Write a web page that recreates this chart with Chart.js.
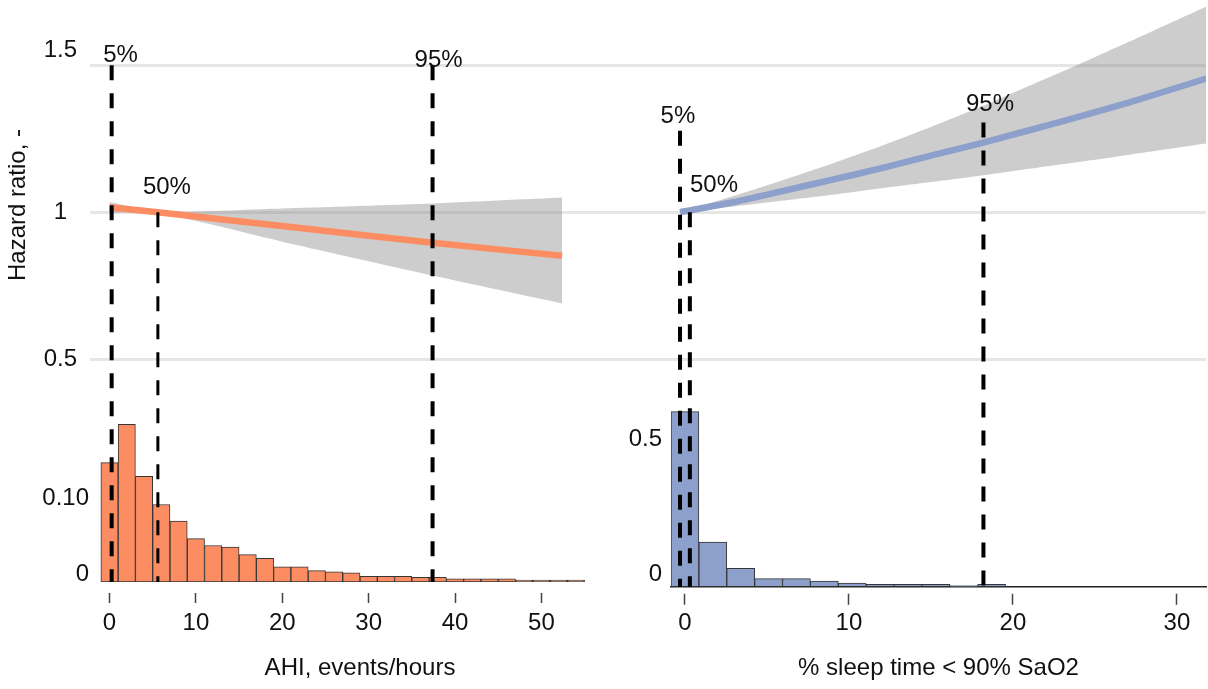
<!DOCTYPE html>
<html>
<head>
<meta charset="utf-8">
<script src="https://cdn.jsdelivr.net/npm/chart.js@4.4.1/dist/chart.umd.min.js"></script>
<style>
  html, body { margin: 0; padding: 0; background: #ffffff; }
  #wrap { position: relative; width: 1208px; height: 689px; overflow: hidden; background: #ffffff; }
  canvas { position: absolute; top: 0; }
  #cL { left: 0; }
  #cR { left: 600px; }
</style>
</head>
<body>
<div id="wrap">
  <canvas id="cL" width="630" height="689"></canvas>
  <canvas id="cR" width="608" height="689"></canvas>
</div>
<script>
// ---------------- DATA ----------------
// Left panel: AHI, events/hours
const ahiBinCenters = [0, 2, 4, 6, 8, 10, 12, 14, 16, 18, 20, 22, 24, 26, 28, 30, 32, 34, 36, 38, 40, 42, 44, 46, 48, 50, 52, 54];
const ahiProportion = [0.157, 0.2075, 0.139, 0.102, 0.080, 0.057, 0.048, 0.046, 0.036, 0.031, 0.020, 0.020, 0.015, 0.0135,
                       0.012, 0.0075, 0.0075, 0.0075, 0.006, 0.006, 0.0043, 0.0043, 0.0043, 0.0043, 0.0026, 0.0026, 0.0026, 0.0026];
const ahiCurveX   = [0, 5.6, 20, 37.4, 52.4];
const ahiHR       = [1.017, 1.0, 0.953, 0.896, 0.852];
const ahiHRLower  = [0.998, 0.998, 0.900, 0.785, 0.690];
const ahiHRUpper  = [1.035, 1.002, 1.013, 1.030, 1.050];
const ahiPercentiles   = [0.25, 5.6, 37.4];     // 5%, 50%, 95%
const ahiPercentileTop = [1.5, 1.0, 1.5];       // hazard ratio where the marker line starts
const ahiLabelX  = [1.27, 6.65, 38.1];
const ahiLabelHR = [1.532, 1.083, 1.518];
const ahiTicks = [0, 10, 20, 30, 40, 50];
const ahiHistTicks = [0, 0.10];
const ahiHistTickLabels = ['0', '0.10'];

// Right panel: % sleep time < 90% SaO2
const satBinCenters = [0, 1.7, 3.4, 5.1, 6.8, 8.5, 10.2, 11.9, 13.6, 15.3, 17.0, 18.7, 20.4, 22.1, 23.8, 25.5, 27.2, 28.9, 30.6];
const satProportion = [0.645, 0.164, 0.068, 0.0295, 0.0295, 0.021, 0.0136, 0.009, 0.009, 0.009, 0.004, 0.009, 0, 0, 0, 0, 0, 0, 0];
const satCurveX  = [-0.3, 3, 6, 9, 12, 15, 18.2, 21, 24.1, 27, 31.8];
const satHR      = [1.0, 1.035, 1.073, 1.111, 1.150, 1.193, 1.237, 1.279, 1.326, 1.372, 1.455];
const satHRLower = [1.0, 1.020, 1.040, 1.060, 1.082, 1.103, 1.126, 1.148, 1.172, 1.195, 1.234];
const satHRUpper = [1.0, 1.056, 1.110, 1.166, 1.226, 1.290, 1.362, 1.430, 1.505, 1.578, 1.700];
const satPercentiles   = [-0.3, 0.3, 18.2];
const satPercentileTop = [1.277, 1.0, 1.305];
const satLabelX  = [-0.43, 1.77, 18.6];
const satLabelHR = [1.327, 1.09, 1.368];
const satTicks = [0, 10, 20, 30];
const satHistTicks = [0, 0.5];
const satHistTickLabels = ['0', '0.5'];

// Shared
const percentileLabels = ['5%', '50%', '95%'];
const hrTicks = [0.5, 1, 1.5];
const hrTickLabels = ['0.5', '1', '1.5'];

// ---------------- STYLE / LAYOUT ----------------
const FONT = "'Liberation Sans', Arial, Helvetica, sans-serif";
const TXT = '#111111';
const GRID = '#e6e6e6';
const BAND = 'rgba(130,130,130,0.40)';
const ORANGE = '#FC8D62';
const BLUE = '#8DA0CB';
const f24 = { family: FONT, size: 24 };

const HR_MAX = 1.722, HR_MIN = 0.3275;   // hazard-ratio axis range (upper block)
const HR_WEIGHT = 410;                    // stack weights of the two y blocks

Chart.defaults.font.family = FONT;
Chart.defaults.color = TXT;

const labelPlugin = (labels, lx, ly) => ({
  id: 'pctLabels',
  afterDatasetsDraw(chart) {
    const ctx = chart.ctx, xs = chart.scales.x, ys = chart.scales.yHR;
    ctx.save();
    ctx.font = '24px ' + FONT;
    ctx.fillStyle = TXT;
    ctx.textAlign = 'center';
    ctx.textBaseline = 'middle';
    labels.forEach((t, i) => ctx.fillText(t, xs.getPixelForValue(lx[i]), ys.getPixelForValue(ly[i])));
    ctx.restore();
  }
});

function noPadY(ax, w) { ax.width = w; ax.paddingTop = 0; ax.paddingBottom = 0; }

function build(canvasId, o) {
  const histWeight = o.histWeight;
  // hazard-ratio value that lands on the histogram baseline (bottom of the chart area)
  const hrAtBase = HR_MIN - (HR_MAX - HR_MIN) * histWeight / HR_WEIGHT;
  const datasets = [
    {
      type: 'bar', yAxisID: 'yH', order: 4,
      data: o.binCenters.map((c, i) => ({ x: c, y: o.proportion[i] })),
      backgroundColor: o.color, borderColor: '#363636', borderWidth: 1, borderSkipped: false,
      barPercentage: 1, categoryPercentage: 1, grouped: false
    },
    {
      type: 'line', yAxisID: 'yHR', order: 3,
      data: o.curveX.map((x, i) => ({ x, y: o.lower[i] })),
      borderWidth: 0, pointRadius: 0, fill: false, tension: 0.2
    },
    {
      type: 'line', yAxisID: 'yHR', order: 3,
      data: o.curveX.map((x, i) => ({ x, y: o.upper[i] })),
      borderWidth: 0, pointRadius: 0, fill: '-1', backgroundColor: BAND, tension: 0.2
    },
    {
      type: 'line', yAxisID: 'yHR', order: 2,
      data: o.curveX.map((x, i) => ({ x, y: o.hr[i] })),
      borderColor: o.color, borderWidth: 6.5, pointRadius: 0, fill: false, tension: 0.2,
      borderCapStyle: 'butt'
    }
  ];
  o.percentiles.forEach((p, i) => {
    datasets.push({
      type: 'line', yAxisID: 'yHR', order: 1, clip: false,
      data: [{ x: p, y: o.pctTop[i] }, { x: p, y: hrAtBase }],
      borderColor: '#000', borderWidth: o.dashWidth[i], borderDash: [15, 13], borderCapStyle: 'butt',
      pointRadius: 0, fill: false
    });
  });

  return new Chart(document.getElementById(canvasId), {
    type: 'bar',
    data: { datasets },
    options: {
      responsive: false, animation: false, devicePixelRatio: 1,
      layout: { padding: { left: 0, right: o.padRight, top: 0, bottom: 0 } },
      plugins: { legend: { display: false }, tooltip: { enabled: false } },
      scales: {
        x: {
          type: 'linear', position: 'bottom', min: o.xMin, max: o.xMax, offset: false,
          afterBuildTicks: ax => { ax.ticks = o.xTicks.map(v => ({ value: v })); },
          afterFit: ax => { ax.height = o.xAxisHeight; ax.paddingLeft = 0; ax.paddingRight = 0; },
          grid: { offset: false, drawOnChartArea: false, drawTicks: true, tickLength: o.tickLen, tickColor: '#444',
                  tickWidth: 1.5, tickBorderDash: o.tickDash },
          border: o.xBorder,
          ticks: { font: f24, color: TXT, padding: o.tickPad, maxRotation: 0, autoSkip: false },
          title: { display: true, text: o.xTitle, font: f24, color: TXT, padding: { top: 0, bottom: 6 } }
        },
        yHR: {
          type: 'linear', position: 'left', stack: 'left', stackWeight: HR_WEIGHT, weight: 1,
          min: HR_MIN, max: HR_MAX,
          afterBuildTicks: ax => { ax.ticks = hrTicks.map(v => ({ value: v })); },
          afterFit: ax => noPadY(ax, o.leftWidth),
          grid: { offset: false, color: GRID, lineWidth: 3, drawTicks: true, tickLength: o.hrTickLen },
          border: { display: false },
          ticks: {
            display: o.showHR, font: f24, color: TXT, padding: 13, crossAlign: 'center',
            callback: (v, i) => (i === hrTicks.length - 1 ? [hrTickLabels[i], ''] : hrTickLabels[i])
          },
          title: { display: o.showHR, text: 'Hazard ratio, -', font: f24, color: TXT, padding: { top: 4, bottom: 0 } }
        },
        yH: {
          type: 'linear', position: 'left', stack: 'left', stackWeight: histWeight, weight: 0,
          min: 0, max: o.histMax,
          afterBuildTicks: ax => { ax.ticks = o.histTicks.map(v => ({ value: v })); },
          afterFit: ax => noPadY(ax, o.leftWidth),
          grid: { display: false, drawTicks: false },
          border: { display: false },
          ticks: { font: f24, color: TXT, padding: o.histPad, labelOffset: o.histLabelOffset,
                   callback: (v, i) => o.histTickLabels[i] }
        }
      }
    },
    plugins: [labelPlugin(percentileLabels, o.labelX, o.labelHR)]
  });
}

build('cL', {
  binCenters: ahiBinCenters, proportion: ahiProportion, color: ORANGE,
  curveX: ahiCurveX, hr: ahiHR, lower: ahiHRLower, upper: ahiHRUpper,
  percentiles: ahiPercentiles, pctTop: ahiPercentileTop, dashWidth: [4, 3, 4],
  labelX: ahiLabelX, labelHR: ahiLabelHR,
  xMin: -1.1, xMax: 59.1, xTicks: ahiTicks, xTitle: 'AHI, events/hours',
  xAxisHeight: 107, tickLen: 21, tickDash: [0, 11, 10, 100], tickPad: 6,
  xBorder: { display: false },
  padRight: 10, leftWidth: 100, hrTickLen: 10, showHR: true,
  histWeight: 172, histMax: 172 / 760, histTicks: ahiHistTicks, histTickLabels: ahiHistTickLabels,
  histPad: 11, histLabelOffset: -8
});

build('cR', {
  binCenters: satBinCenters, proportion: satProportion, color: BLUE,
  curveX: satCurveX, hr: satHR, lower: satHRLower, upper: satHRUpper,
  percentiles: satPercentiles, pctTop: satPercentileTop, dashWidth: [4, 4, 4],
  labelX: satLabelX, labelHR: satLabelHR,
  xMin: -0.85, xMax: 31.77, xTicks: satTicks, xTitle: '% sleep time < 90% SaO2',
  xAxisHeight: 102.3, tickLen: 18, tickDash: [0, 6.3, 11, 100], tickPad: 4,
  xBorder: { display: true, color: '#222', width: 1.5 },
  padRight: 2, leftWidth: 71, hrTickLen: 71, showHR: false,
  histWeight: 176.7, histMax: 176.7 / 271.4, histTicks: satHistTicks, histTickLabels: satHistTickLabels,
  histPad: 9, histLabelOffset: -12
});
</script>
</body>
</html>
